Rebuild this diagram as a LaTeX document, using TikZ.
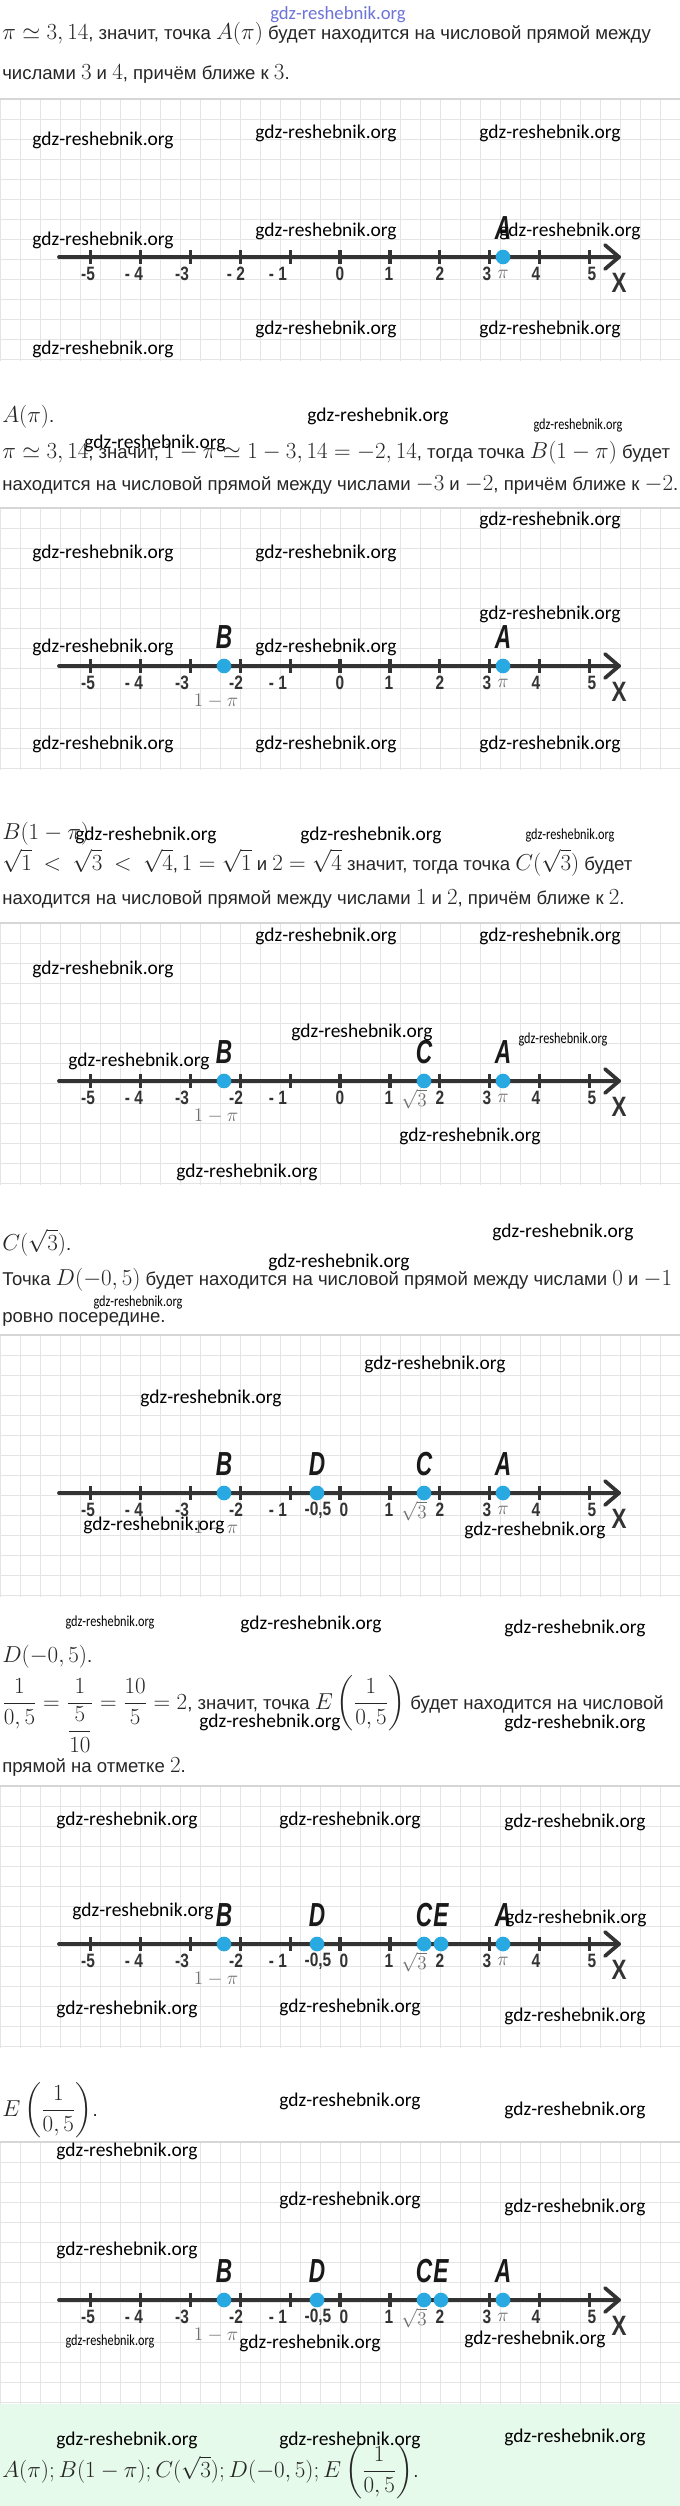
\documentclass[tikz,border=0pt]{standalone}
\usepackage{amsmath}
\usepackage[no-math]{fontspec}
\setmainfont{Liberation Sans}[Scale=0.87]
\newfontfamily\wmfont{Carlito}
\newfontfamily\axfont{Liberation Sans}
\definecolor{gridgray}{HTML}{E4E4E4}
\definecolor{rulegray}{HTML}{D6D6D6}
\definecolor{axisgray}{HTML}{333333}
\definecolor{dotblue}{HTML}{29A9E1}
\definecolor{labgray}{HTML}{707070}
\definecolor{answergreen}{HTML}{E6FAEC}
\definecolor{wmblue}{HTML}{6C74D8}
\newcommand{\slim}[2]{\scalebox{#1}[1]{#2}}
\newcommand{\numline}[3]{%
    \foreach \gx in {0,20,...,680}
        \draw[gridline] (\gx,#1-158) -- (\gx,#1+104);
    \foreach \gy in {-158,-138,...,102}
        \draw[gridline] (0,#1+\gy) -- (680,#1+\gy);
    \draw[panelrule] (0,#1-158) -- (680,#1-158);
    \draw[axisline] (59,#1) -- (619,#1);
    \draw[axisline,line join=round] (605,#1-12) -- (619,#1) -- (605,#1+12);
    \foreach \k in {-5,...,5}
        \draw[tickmark] (340+49.9*\k,#1-7) -- (340+49.9*\k,#1+7);
    \foreach \lx/\ltxt [count=\n] in {88/-5,134/- 4,182/-3,236/#3,278/- 1,389/1,440/2,487/3,536/4,592/5}
        \node[numlab] (#2lab\n) at (\lx,#1+17) {\slim{.8}{\ltxt}};
    \node[xlab] (#2x) at (619,#1+26) {\slim{.8}{X}};
    \node[graylab] (#2pi) at (503,#1+17) {$\pi$};
}
\newcommand{\numpt}[4]{%
    \node[dot] (#4dot) at (#1,#2) {};
    \node[ptlab] (#4) at (#1,#2-29) {\slim{.68}{#3}};
}

\begin{document}
\begin{tikzpicture}[x=0.75pt,y=-0.75pt,
    gridline/.style={draw=gridgray,line width=0.75pt},
    panelrule/.style={draw=rulegray,line width=1.5pt},
    axisline/.style={draw=axisgray,line width=2.8pt,line cap=round},
    tickmark/.style={draw=axisgray,line width=2.4pt},
    numlab/.style={font=\axfont\bfseries\fontsize{14.5}{16}\selectfont,text=axisgray,inner sep=0pt},
    xlab/.style={font=\axfont\bfseries\fontsize{21}{24}\selectfont,text=axisgray,inner sep=0pt},
    ptlab/.style={font=\axfont\bfseries\itshape\fontsize{25}{28}\selectfont,text=black!90,inner sep=0pt},
    graylab/.style={font=\fontsize{14}{16}\selectfont,text=labgray,inner sep=0pt},
    dot/.style={circle,fill=dotblue,inner sep=0pt,minimum size=11pt},
    txt/.style={anchor=base west,inner sep=0pt,font=\fontsize{16}{19}\selectfont,text=black!85},
    wm/.style={font=\wmfont\fontsize{14.6}{16}\selectfont,text=black,inner sep=0pt},
    wmsmall/.style={font=\wmfont\fontsize{11.5}{13}\selectfont,text=black,inner sep=0pt},
    wmtop/.style={font=\wmfont\fontsize{14}{16}\selectfont,text=wmblue,inner sep=0pt}]

    \useasboundingbox (0,0) rectangle (680,2506);
    \fill[white] (0,0) rectangle (680,2506);
    \fill[answergreen] (0,2404) rectangle (680,2506);

    \node[wmtop] (wmhead) at (338,15) {gdz-reshebnik.org};

    % A
    \node[txt] (s1a) at (2,39) {$\pi\simeq3,14$, значит, точка $A(\pi)$ будет находится на числовой прямой между};
    \node[txt] (s1b) at (2,79) {числами $3$ и $4$, причём ближе к $3$.};
    \numline{257}{pa}{- 2}
    \node[numlab] (pazero) at (340,274) {\slim{.8}{0}};
    \numpt{503}{257}{A}{paA}

    % B
    \node[txt] (s2a) at (2,422) {$A(\pi)$.};
    \node[txt] (s2b) at (2,458) {$\pi\simeq3,14$, значит, $1-\pi\simeq1-3,14=-2,14$, тогда точка $B(1-\pi)$ будет};
    \node[txt] (s2c) at (2,490) {находится на числовой прямой между числами $-3$ и $-2$, причём ближе к $-2$.};
    \numline{666}{pb}{-2}
    \node[numlab] (pbzero) at (340,683) {\slim{.8}{0}};
    \node[graylab] (pbonepi) at (216,701) {$1-\pi$};
    \numpt{224}{666}{B}{pbB}
    \numpt{503}{666}{A}{pbA}

    % C
    \node[txt] (s3a) at (2,839) {$B(1-\pi)$.};
    \node[txt] (s3b) at (2,870) {$\sqrt{1}\ <\ \sqrt{3}\ <\ \sqrt{4}$,$\,1=\sqrt{1}$ и $2=\sqrt{4}$ значит, тогда точка $C(\sqrt{3})$ будет};
    \node[txt] (s3c) at (2,904) {находится на числовой прямой между числами $1$ и $2$, причём ближе к $2$.};
    \numline{1081}{pc}{-2}
    \node[numlab] (pczero) at (340,1098) {\slim{.8}{0}};
    \node[graylab] (pconepi) at (216,1116) {$1-\pi$};
    \node[graylab] (pcsqrt) at (414,1099) {$\sqrt{3}$};
    \numpt{224}{1081}{B}{pcB}
    \numpt{424}{1081}{C}{pcC}
    \numpt{503}{1081}{A}{pcA}

    % D
    \node[txt] (s4a) at (2,1250) {$C(\sqrt{3})$.};
    \node[txt] (s4b) at (2,1285) {Точка $D(-0,5)$ будет находится на числовой прямой между числами $0$ и $-1$};
    \node[txt] (s4c) at (2,1322) {ровно посередине.};
    \numline{1493}{pd}{-2}
    \node[numlab] (pdzero) at (344,1510) {\slim{.8}{0}};
    \node[numlab] (pdhalf) at (318,1510) {\slim{.8}{-0,5}};
    \node[graylab] (pdonepi) at (216,1528) {$1-\pi$};
    \node[graylab] (pdsqrt) at (414,1511) {$\sqrt{3}$};
    \numpt{224}{1493}{B}{pdB}
    \numpt{317}{1493}{D}{pdD}
    \numpt{424}{1493}{C}{pdC}
    \numpt{503}{1493}{A}{pdA}

    % E
    \node[txt] (s5a) at (2,1662) {$D(-0,5)$.};
    \node[txt] (s5b) at (2,1709) {$\dfrac{1}{0,5}=\dfrac{1}{\dfrac{5}{10}}=\dfrac{10}{5}=2$, значит, точка $E\left(\dfrac{1}{0,5}\right)$ будет находится на числовой};
    \node[txt] (s5c) at (2,1772) {прямой на отметке $2$.};
    \numline{1944}{pe}{-2}
    \node[numlab] (pezero) at (344,1961) {\slim{.8}{0}};
    \node[numlab] (pehalf) at (318,1961) {\slim{.8}{-0,5}};
    \node[graylab] (peonepi) at (216,1979) {$1-\pi$};
    \node[graylab] (pesqrt) at (414,1962) {$\sqrt{3}$};
    \numpt{224}{1944}{B}{peB}
    \numpt{317}{1944}{D}{peD}
    \numpt{424}{1944}{C}{peC}
    \numpt{441}{1944}{E}{peE}
    \numpt{503}{1944}{A}{peA}

    % answer
    \node[txt] (s6a) at (2,2116) {$E\left(\dfrac{1}{0,5}\right)$.};
    \numline{2300}{pf}{-2}
    \node[numlab] (pfzero) at (344,2317) {\slim{.8}{0}};
    \node[numlab] (pfhalf) at (318,2317) {\slim{.8}{-0,5}};
    \node[graylab] (pfonepi) at (216,2335) {$1-\pi$};
    \node[graylab] (pfsqrt) at (414,2318) {$\sqrt{3}$};
    \numpt{224}{2300}{B}{pfB}
    \numpt{317}{2300}{D}{pfD}
    \numpt{424}{2300}{C}{pfC}
    \numpt{441}{2300}{E}{pfE}
    \numpt{503}{2300}{A}{pfA}
    \node[txt] (ans) at (2,2477) {$A(\pi); B(1-\pi); C(\sqrt{3}); D(-0,5); E\left(\dfrac{1}{0,5}\right)$.};

    % watermarks
    \foreach \wx/\wy [count=\n] in {326/133,550/133,103/140,326/231,103/240,570/231,326/329,550/329,103/349,
        378/416,155/443,
        550/520,103/553,326/553,550/614,103/647,326/647,103/744,326/744,550/744,
        146/835,371/835,
        326/936,550/936,103/969,362/1032,139/1061,470/1136,247/1172,563/1232,
        339/1262,
        435/1364,211/1398,154/1525,535/1530,311/1624,575/1628,
        270/1722,575/1723,
        127/1820,350/1820,575/1822,143/1911,576/1918,127/2009,350/2007,575/2016,
        350/2101,575/2110,
        127/2151,350/2200,575/2207,127/2250,310/2343,535/2339,
        127/2440,350/2440,575/2437}
        \node[wm] (wm\n) at (\wx,\wy) {gdz-reshebnik.org};
    \foreach \wx/\wy [count=\n] in {578/425,570/835,563/1039,138/1302,110/1622,110/2341}
        \node[wmsmall] (wms\n) at (\wx,\wy) {\slim{.8}{gdz-reshebnik.org}};
\end{tikzpicture}
\end{document}
